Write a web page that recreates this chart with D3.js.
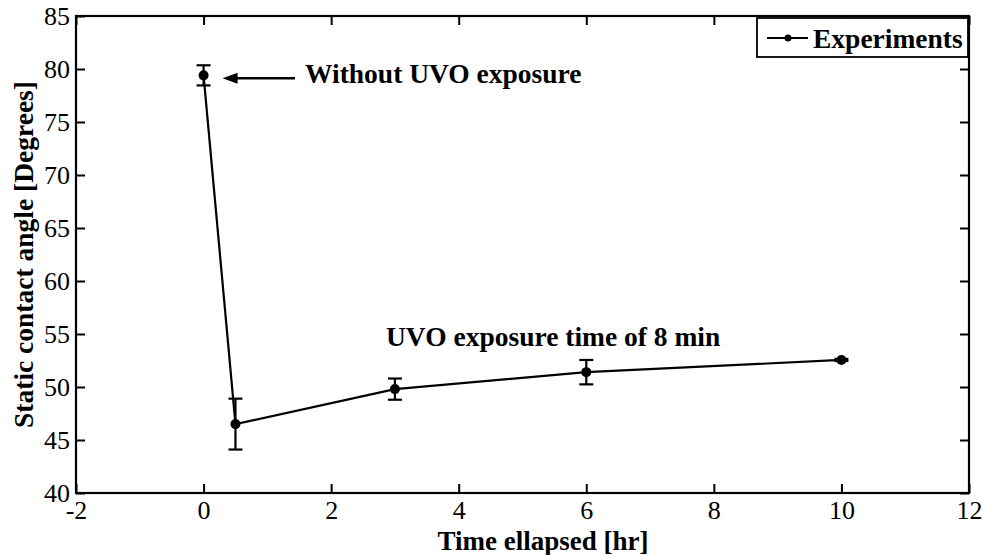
<!DOCTYPE html>
<html>
<head>
<meta charset="utf-8">
<script src="https://cdn.jsdelivr.net/npm/d3@7"></script>
<style>
  html, body { margin: 0; padding: 0; background: #fff; }
  svg { display: block; }
  text { font-family: "Liberation Serif", "Times New Roman", serif; fill: #000; }
</style>
</head>
<body>
<svg id="chart" width="985" height="555"></svg>
<script>
// Static contact angle after UVO treatment, measured over time
const timeHours   = [0, 0.5, 3, 6, 10];
const contactAngle = [79.4, 46.5, 49.8, 51.4, 52.55];
const angleError   = [0.95, 2.4, 1.0, 1.15, 0.1];

const xTicks = [-2, 0, 2, 4, 6, 8, 10, 12];
const yTicks = [40, 45, 50, 55, 60, 65, 70, 75, 80, 85];

const xLabel = "Time ellapsed [hr]";
const yLabel = "Static contact angle [Degrees]";
const legendLabel = "Experiments";
const noteBefore = "Without UVO exposure";
const noteAfter = "UVO exposure time of 8 min";

const plot = { left: 76, right: 969, top: 16, bottom: 493 };

const svg = d3.select("#chart");

const x = d3.scaleLinear().domain([-2, 12]).range([plot.left, plot.right]);
const y = d3.scaleLinear().domain([40, 85]).range([plot.bottom, plot.top]);

const tickLen = 9;
const tickFont = 26;
const boldFont = 27.5;

// Axes: bottom/left carry labels, top/right mirror the inward ticks
const gx = svg.append("g").attr("transform", `translate(0,${plot.bottom})`)
  .call(d3.axisBottom(x).tickValues(xTicks).tickSize(-tickLen).tickPadding(8)
        .tickFormat(d => d < 0 ? "-" + Math.abs(d) : String(d)));
const gxTop = svg.append("g").attr("transform", `translate(0,${plot.top})`)
  .call(d3.axisTop(x).tickValues(xTicks).tickSize(-tickLen).tickFormat(""));
const gy = svg.append("g").attr("transform", `translate(${plot.left},0)`)
  .call(d3.axisLeft(y).tickValues(yTicks).tickSize(-tickLen).tickPadding(6));
const gyRight = svg.append("g").attr("transform", `translate(${plot.right},0)`)
  .call(d3.axisRight(y).tickValues(yTicks).tickSize(-tickLen).tickFormat(""));

[gx, gxTop, gy, gyRight].forEach(g => {
  g.attr("font-family", null).attr("font-size", null);
  g.select(".domain").remove();
  g.selectAll(".tick line").attr("stroke", "#000").attr("stroke-width", 2);
  g.selectAll(".tick text")
    .style("font-family", "'Liberation Serif', 'Times New Roman', serif")
    .style("font-size", tickFont + "px")
    .attr("fill", "#000");
});
gx.selectAll(".tick text").attr("dy", "0.71em");
gy.selectAll(".tick text").attr("dy", "0.34em");

// Box around the plotting area
svg.append("rect")
  .attr("x", plot.left).attr("y", plot.top)
  .attr("width", plot.right - plot.left).attr("height", plot.bottom - plot.top)
  .attr("fill", "none").attr("stroke", "#000").attr("stroke-width", 2.2);

// Axis titles
svg.append("text")
  .attr("x", 543).attr("y", 550)
  .attr("text-anchor", "middle").attr("font-weight", "bold").attr("font-size", 27)
  .text(xLabel);
svg.append("text")
  .attr("transform", `translate(33,${(plot.top + plot.bottom) / 2}) rotate(-90)`)
  .attr("text-anchor", "middle").attr("font-weight", "bold").attr("font-size", boldFont)
  .text(yLabel);

// Data series
const points = timeHours.map((t, i) => ({ t, v: contactAngle[i], e: angleError[i] }));

svg.append("path")
  .datum(points)
  .attr("fill", "none").attr("stroke", "#000").attr("stroke-width", 2.2)
  .attr("d", d3.line().x(d => x(d.t)).y(d => y(d.v)));

const capHalf = 7;
const bars = svg.append("g").attr("stroke", "#000").attr("stroke-width", 2.2);
points.forEach(d => {
  const cx = x(d.t), yt = y(d.v + d.e), yb = y(d.v - d.e);
  bars.append("line").attr("x1", cx).attr("x2", cx).attr("y1", yt).attr("y2", yb);
  bars.append("line").attr("x1", cx - capHalf).attr("x2", cx + capHalf).attr("y1", yt).attr("y2", yt);
  bars.append("line").attr("x1", cx - capHalf).attr("x2", cx + capHalf).attr("y1", yb).attr("y2", yb);
});

svg.append("g").selectAll("circle")
  .data(points).join("circle")
  .attr("cx", d => x(d.t)).attr("cy", d => y(d.v)).attr("r", 5).attr("fill", "#000");

// Annotation arrow pointing at the untreated sample
const arrowY = y(contactAngle[0]) + 3;
const tipX = x(timeHours[0]) + 19;
svg.append("line")
  .attr("x1", 295).attr("x2", tipX + 12).attr("y1", arrowY).attr("y2", arrowY)
  .attr("stroke", "#000").attr("stroke-width", 2.5);
svg.append("path")
  .attr("d", `M${tipX},${arrowY} L${tipX + 15},${arrowY - 5.5} L${tipX + 15},${arrowY + 5.5} Z`)
  .attr("fill", "#000");

svg.append("text")
  .attr("x", 305).attr("y", 83)
  .attr("font-weight", "bold").attr("font-size", boldFont)
  .text(noteBefore);
svg.append("text")
  .attr("x", 386).attr("y", 346)
  .attr("font-weight", "bold").attr("font-size", boldFont)
  .text(noteAfter);

// Legend
const lg = svg.append("g");
lg.append("rect")
  .attr("x", 757).attr("y", 18).attr("width", 211).attr("height", 39)
  .attr("fill", "#fff").attr("stroke", "#000").attr("stroke-width", 1.8);
lg.append("line")
  .attr("x1", 767).attr("x2", 808).attr("y1", 38).attr("y2", 38)
  .attr("stroke", "#000").attr("stroke-width", 2.2);
lg.append("circle").attr("cx", 788).attr("cy", 38).attr("r", 3.5).attr("fill", "#000");
lg.append("text")
  .attr("x", 813).attr("y", 48)
  .attr("font-weight", "bold").attr("font-size", boldFont)
  .text(legendLabel);
</script>
</body>
</html>
